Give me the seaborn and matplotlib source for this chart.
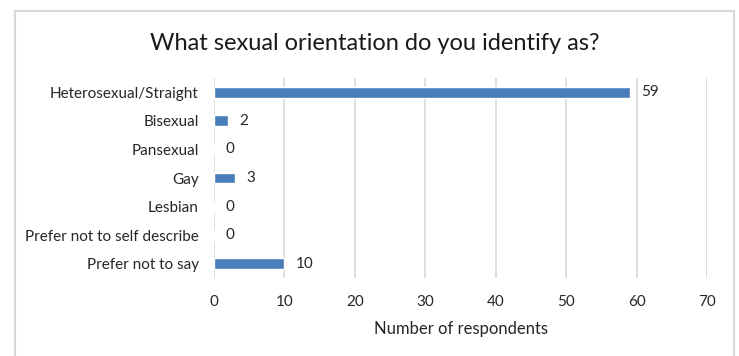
import matplotlib
matplotlib.use("Agg")
import matplotlib.pyplot as plt
import seaborn as sns
import pandas as pd
from matplotlib.patches import Rectangle

categories = [
    "Heterosexual/Straight",
    "Bisexual",
    "Pansexual",
    "Gay",
    "Lesbian",
    "Prefer not to self describe",
    "Prefer not to say",
]
counts = [59, 2, 0, 3, 0, 0, 10]
x_ticks = [0, 10, 20, 30, 40, 50, 60, 70]

sns.set_style("white")
plt.rcParams["font.family"] = ["Lato", "DejaVu Sans"]

df = pd.DataFrame({"category": categories, "count": counts})

fig = plt.figure(figsize=(7.39, 3.56), dpi=100)
ax = fig.add_axes([214 / 739, 1 - 278 / 356, (707 - 214) / 739, 200 / 356])

# Outer chart frame
fig.patches.append(Rectangle((14.5 / 739, -0.1), (733.5 - 14.5) / 739, 1.1 - 11.5 / 356,
                             transform=fig.transFigure, fill=False,
                             edgecolor="#d9d9d9", linewidth=1.5, zorder=0))

sns.barplot(data=df, x="count", y="category", order=categories, color="#4a7ebb",
            width=0.38, saturation=1, ax=ax, zorder=3)

for i, v in enumerate(counts):
    ax.text(v + 1.6, i, str(v), va="center", ha="left", fontsize=11, color="#262626")

ax.set_xlim(0, 70)
ax.set_ylim(6.5, -0.5)
ax.set_xticks(x_ticks)
ax.set_xticklabels([str(t) for t in x_ticks])
ax.grid(axis="x", color="#d9d9d9", linewidth=1.2, zorder=0)
ax.grid(axis="y", visible=False)
for s in ax.spines.values():
    s.set_visible(False)
ax.tick_params(axis="x", length=0, pad=12, labelsize=11, colors="#262626")
ax.tick_params(axis="y", length=0, pad=11, labelsize=11, colors="#262626")
ax.set_ylabel("")
ax.set_xlabel("Number of respondents", fontsize=12, color="#262626", labelpad=9)

fig.text(375 / 739, 1 - 44 / 356, "What sexual orientation do you identify as?",
         ha="center", va="center", fontsize=17, color="#1a1a1a")

fig.savefig("out.png", dpi=100)
